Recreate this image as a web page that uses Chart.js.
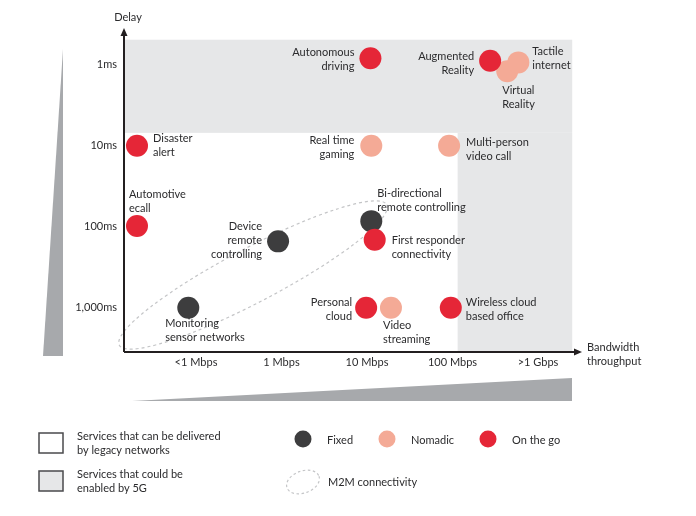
<!DOCTYPE html>
<html>
<head>
<meta charset="utf-8">
<script src="https://cdn.jsdelivr.net/npm/chart.js@4.4.1/dist/chart.umd.min.js"></script>
<style>
html,body{margin:0;padding:0;background:#fff;}
#wrap{width:696px;height:516px;position:relative;}
</style>
</head>
<body>
<div id="wrap"><canvas id="c"></canvas></div>
<script>
// ---- data ----
const bandwidthLabels = ['<1 Mbps', '1 Mbps', '10 Mbps', '100 Mbps', '>1 Gbps'];
const delayLabels = ['1,000ms', '100ms', '10ms', '1ms'];
const serviceNames = [
  'Autonomous\ndriving', 'Augmented\nReality', 'Virtual\nReality', 'Tactile\ninternet',
  'Disaster\nalert', 'Real time\ngaming', 'Multi-person\nvideo call',
  'Automotive\necall', 'Device\nremote\ncontrolling', 'Bi-directional\nremote controlling',
  'First responder\nconnectivity', 'Monitoring\nsensor networks', 'Personal\ncloud',
  'Video\nstreaming', 'Wireless cloud\nbased office'
];
const serviceBandwidth = [2.04, 3.44, 3.64, 3.77, -0.69, 2.05, 2.96, -0.69, 0.96, 2.05, 2.09, -0.09, 1.99, 2.28, 2.98];
const serviceDelay = [3.07, 3.04, 2.91, 3.02, 1.99, 1.99, 1.99, 1.0, 0.81, 1.06, 0.83, -0.01, -0.01, -0.01, -0.01];
const serviceType = ['On the go', 'On the go', 'Nomadic', 'Nomadic', 'On the go', 'Nomadic', 'Nomadic',
  'On the go', 'Fixed', 'Fixed', 'On the go', 'Fixed', 'On the go', 'Nomadic', 'On the go'];
const typeNames = ['On the go', 'Fixed', 'Nomadic'];
// 5G region thresholds (axis units)
const region5GDelay = 2.15;
const region5GBandwidth = 3.06;
const regionTop = 3.30;
const regionRight = 4.40;
// M2M ellipse centre (axis units)
const m2mCenter = [0.667, 0.395];

// ---- styles ----
const typeColors = {'Fixed': '#3d3d3e', 'Nomadic': '#f4aa96', 'On the go': '#e52637'};
const textColor = '#2b2b2d';
const FONT = 'Lato, "Open Sans", sans-serif';
// label placement: [align, dx, dy of first line]
const labelPlace = [
  ['right', -16, -6], ['right', -16, -4], ['left', -5, 19], ['left', 14, -11],
  ['left', 16, -7], ['right', -17, -5], ['left', 17, -3],
  ['left', -8, -32], ['right', -16, -15], ['left', 6, -28],
  ['left', 17, 1], ['left', -23, 16], ['right', -14, -5],
  ['left', -8, 18], ['left', 15, -5]
];

const datasets = typeNames.map(t => {
  const pts = [];
  serviceNames.forEach((n, i) => {
    if (serviceType[i] === t) pts.push({x: serviceBandwidth[i], y: serviceDelay[i], idx: i});
  });
  return {label: t, data: pts, backgroundColor: typeColors[t], borderWidth: 0, pointRadius: 11, pointHoverRadius: 11};
});

const decor = {
  id: 'decor',
  beforeDatasetsDraw(chart) {
    const ctx = chart.ctx, x = chart.scales.x, y = chart.scales.y;
    ctx.save();
    // grey 5G region
    ctx.fillStyle = '#e6e7e8';
    const L = chart.chartArea.left, B = chart.chartArea.bottom;
    const xr = x.getPixelForValue(regionRight), yt = y.getPixelForValue(regionTop);
    const y5 = y.getPixelForValue(region5GDelay), x5 = x.getPixelForValue(region5GBandwidth);
    ctx.fillRect(L, yt, xr - L, y5 - yt);
    ctx.fillRect(x5, y5, xr - x5, B - y5);
    // M2M ellipse
    const cx = x.getPixelForValue(m2mCenter[0]), cy = y.getPixelForValue(m2mCenter[1]);
    ctx.beginPath();
    ctx.ellipse(cx, cy, 151, 27, -27.7 * Math.PI / 180, 0, Math.PI * 2);
    ctx.setLineDash([3, 3]);
    ctx.strokeStyle = '#c4c5c7';
    ctx.lineWidth = 1.2;
    ctx.stroke();
    ctx.setLineDash([]);
    // left and bottom wedges
    ctx.fillStyle = '#a7a9ac';
    ctx.beginPath(); ctx.moveTo(63, 49); ctx.lineTo(63, 356); ctx.lineTo(43, 356); ctx.closePath(); ctx.fill();
    ctx.beginPath(); ctx.moveTo(132, 401); ctx.lineTo(572, 378); ctx.lineTo(572, 401); ctx.closePath(); ctx.fill();
    ctx.restore();
  },
  afterDatasetsDraw(chart) {
    const ctx = chart.ctx, ca = chart.chartArea;
    ctx.save();
    // axis lines with arrows
    ctx.strokeStyle = '#231f20'; ctx.fillStyle = '#231f20'; ctx.lineWidth = 2;
    ctx.beginPath(); ctx.moveTo(ca.left, ca.bottom); ctx.lineTo(ca.left, ca.top + 4); ctx.stroke();
    ctx.beginPath(); ctx.moveTo(ca.left, ca.bottom); ctx.lineTo(ca.right - 4, ca.bottom); ctx.stroke();
    ctx.beginPath(); ctx.moveTo(ca.left, ca.top - 2); ctx.lineTo(ca.left - 3.5, ca.top + 6); ctx.lineTo(ca.left + 3.5, ca.top + 6); ctx.closePath(); ctx.fill();
    ctx.beginPath(); ctx.moveTo(ca.right + 2, ca.bottom); ctx.lineTo(ca.right - 6, ca.bottom - 3.5); ctx.lineTo(ca.right - 6, ca.bottom + 3.5); ctx.closePath(); ctx.fill();
    // point labels
    ctx.font = '11px ' + FONT;
    ctx.fillStyle = textColor;
    ctx.textBaseline = 'middle';
    chart.data.datasets.forEach((ds, di) => {
      const meta = chart.getDatasetMeta(di);
      ds.data.forEach((p, j) => {
        const el = meta.data[j];
        const pl = labelPlace[p.idx];
        ctx.textAlign = pl[0];
        serviceNames[p.idx].split('\n').forEach((line, k) => {
          ctx.fillText(line, el.x + pl[1], el.y + pl[2] + k * 14);
        });
      });
    });
    // axis titles
    ctx.textAlign = 'center';
    ctx.fillText('Delay', 128, 17);
    ctx.textAlign = 'left';
    ctx.fillText('Bandwidth', 587, 347);
    ctx.fillText('throughput', 587, 361);
    // legend
    ctx.lineWidth = 1.5; ctx.strokeStyle = '#4a4a4c';
    ctx.fillStyle = '#ffffff'; ctx.fillRect(39, 433, 24, 20); ctx.strokeRect(39, 433, 24, 20);
    ctx.fillStyle = '#e6e7e8'; ctx.fillRect(39, 471, 24, 20); ctx.strokeRect(39, 471, 24, 20);
    ctx.fillStyle = textColor;
    ctx.fillText('Services that can be delivered', 77, 436);
    ctx.fillText('by legacy networks', 77, 450);
    ctx.fillText('Services that could be', 77, 474);
    ctx.fillText('enabled by 5G', 77, 488);
    const leg = [['Fixed', 303, 327], ['Nomadic', 387, 411], ['On the go', 488, 512]];
    leg.forEach(([t, cx, tx]) => {
      ctx.fillStyle = typeColors[t];
      ctx.beginPath(); ctx.arc(cx, 439, 8.5, 0, Math.PI * 2); ctx.fill();
      ctx.fillStyle = textColor;
      ctx.fillText(t, tx, 440);
    });
    ctx.beginPath();
    ctx.ellipse(303, 482, 17, 11, -20 * Math.PI / 180, 0, Math.PI * 2);
    ctx.setLineDash([2.5, 2.5]); ctx.strokeStyle = '#c4c5c7'; ctx.lineWidth = 1.2; ctx.stroke(); ctx.setLineDash([]);
    ctx.fillStyle = textColor;
    ctx.fillText('M2M connectivity', 328, 482);
    ctx.restore();
  }
};

new Chart(document.getElementById('c'), {
  type: 'scatter',
  data: {datasets},
  options: {
    responsive: true,
    maintainAspectRatio: false,
    animation: false,
    layout: {padding: {left: 0, top: 30, right: 116, bottom: 134}},
    plugins: {legend: {display: false}, tooltip: {enabled: false}},
    scales: {
      x: {
        type: 'linear', min: -0.842, max: 4.491,
        grid: {display: false, drawTicks: false}, border: {display: false},
        afterBuildTicks: s => { s.ticks = bandwidthLabels.map((_, i) => ({value: i})); },
        afterFit: s => { s.height = 30; },
        ticks: {padding: 4, color: textColor, font: {family: FONT, size: 11}, maxRotation: 0, autoSkip: false,
          callback: v => bandwidthLabels[v]}
      },
      y: {
        type: 'linear', min: -0.556, max: 3.42,
        grid: {display: false, drawTicks: false}, border: {display: false},
        afterBuildTicks: s => { s.ticks = delayLabels.map((_, i) => ({value: i})); },
        afterFit: s => { s.width = 124; },
        ticks: {padding: 7, color: textColor, font: {family: FONT, size: 11}, autoSkip: false,
          callback: v => delayLabels[v]}
      }
    }
  },
  plugins: [decor]
});
</script>
</body>
</html>
